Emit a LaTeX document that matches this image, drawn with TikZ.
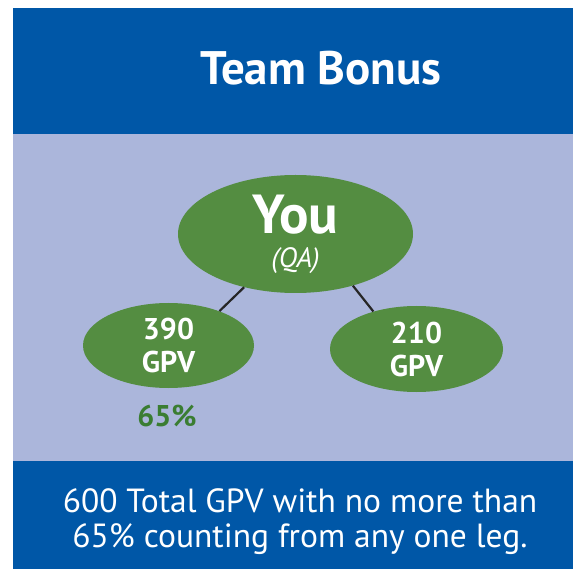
\documentclass[tikz,border=0pt]{standalone}
\usepackage{fontspec}
\setmainfont{PT Sans}
\usetikzlibrary{shapes.geometric}
\definecolor{bandblue}{RGB}{0,87,167}
\definecolor{lilac}{RGB}{171,182,219}
\definecolor{leafgreen}{RGB}{84,141,65}
\definecolor{darkgreen}{RGB}{58,125,50}
\tikzset{
  leg/.style={ellipse, fill=leafgreen, text=white, inner sep=0pt, align=center, font=\bfseries\fontsize{30}{33}\selectfont},
  band/.style={fill=bandblue, draw=none},
}
\begin{document}
\begin{tikzpicture}[x=1pt, y=-1pt]
  \useasboundingbox (0, 0) rectangle (573, 569);
  % Background
  \fill[band] (13, 8) rectangle (573, 134);
  \fill[lilac] (13, 134) rectangle (573, 461);
  \fill[band] (13, 461) rectangle (573, 569);
  % Header
  \node (title) [text=white, font=\bfseries\fontsize{47}{47}\selectfont, anchor=base] at (321, 85) {Team Bonus};
  % Nodes
  \node (you) [leg, minimum width=235pt, minimum height=118pt] at (295.5, 234) {{\fontsize{55}{40}\selectfont You}\\[1pt]{\mdseries\itshape\fontsize{28}{30}\selectfont (QA)}};
  \node (leg1) [leg, minimum width=171pt, minimum height=85pt] at (168.5, 345.5) {390\\GPV};
  \node (leg2) [leg, minimum width=173pt, minimum height=86pt] at (416.5, 349) {210\\GPV};
  \node (share) [text=darkgreen, font=\bfseries\fontsize{30}{30}\selectfont, anchor=base] at (167, 426) {65\%};
  % Lines
  \draw[line width=2.2pt, black!85] (you.226) -- (leg1.34);
  \draw[line width=2.2pt, black!85] (you.318) -- (leg2.139);
  % Footer
  \node (rule) [text=white, align=center, font=\fontsize{33.5}{35}\selectfont] at (300, 522) {600 Total GPV with no more than\\65\% counting from any one leg.};
\end{tikzpicture}
\end{document}
